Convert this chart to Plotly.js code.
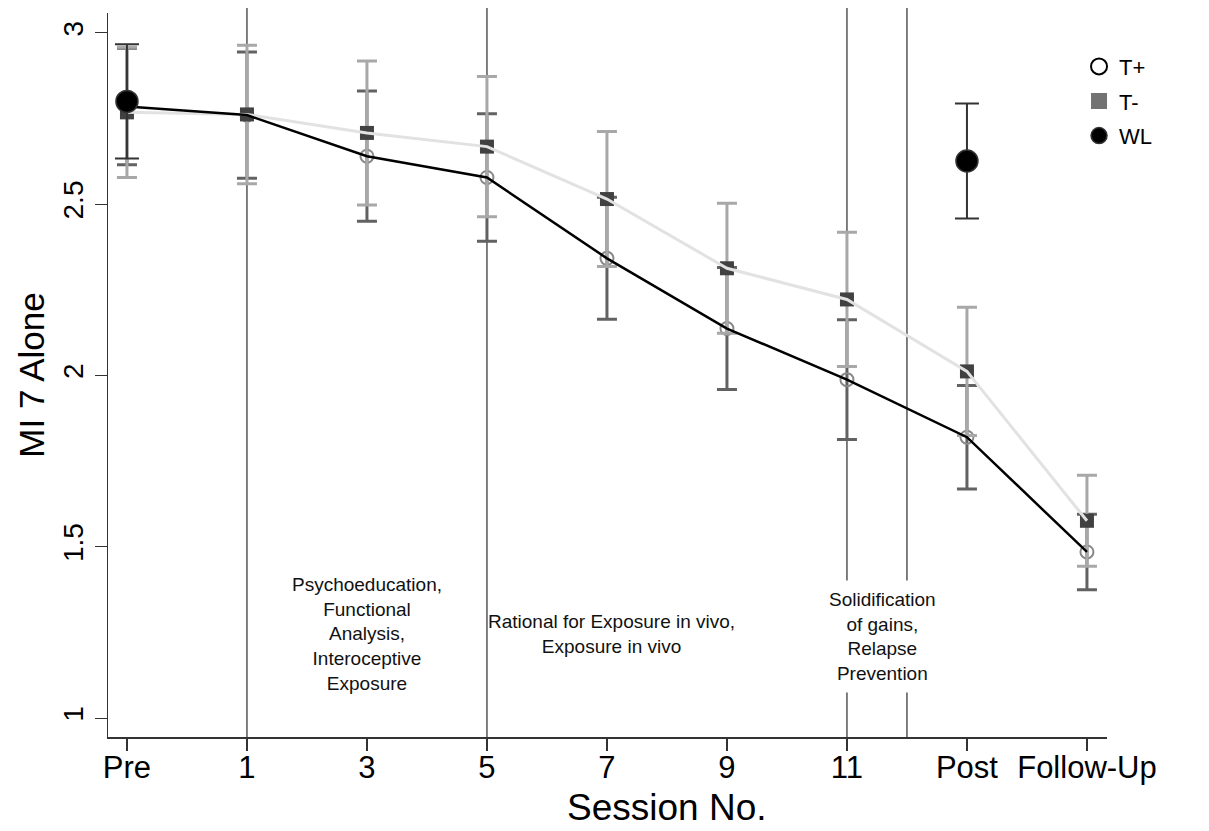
<!DOCTYPE html>
<html>
<head>
<meta charset="utf-8">
<script src="https://cdn.plot.ly/plotly-3.0.1.min.js"></script>
<style>html,body{margin:0;padding:0;background:#fff;}#chart{width:1209px;height:831px;}</style>
</head>
<body>
<div id="chart"></div>
<script>
// ---- data ----
const sessions = ['Pre', '1', '3', '5', '7', '9', '11', 'Post', 'Follow-Up'];
const tPlusMean = [2.785, 2.760, 2.640, 2.578, 2.342, 2.137, 1.988, 1.820, 1.485];
const tPlusErr  = [0.170, 0.184, 0.190, 0.186, 0.178, 0.178, 0.175, 0.151, 0.110];
const tMinusMean = [2.768, 2.762, 2.708, 2.668, 2.515, 2.313, 2.222, 2.012, 1.576];
const tMinusErr  = [0.190, 0.202, 0.210, 0.205, 0.197, 0.190, 0.196, 0.187, 0.133];
const wlSessions = ['Pre', 'Post'];
const wlMean = [2.800, 2.626];
const wlErr  = [0.167, 0.168];
const yTicks = [1, 1.5, 2, 2.5, 3];
const yTickText = ['1', '1.5', '2', '2.5', '3'];
const phaseBoundaries = ['1', '5', '11'];
const phaseLabels = [
  'Psychoeducation,<br>Functional<br>Analysis,<br>Interoceptive<br>Exposure',
  'Rational for Exposure in vivo,<br>Exposure in vivo',
  'Solidification<br>of gains,<br>Relapse<br>Prevention'
];

const idx = s => sessions.indexOf(s);
const xs = sessions.map((s, i) => i);
const wlX = wlSessions.map(idx);

const FONT = 'Liberation Sans, Arial, Helvetica, sans-serif';

const traces = [
  // T+ markers with error bars
  {x: xs, y: tPlusMean, type: 'scatter', mode: 'markers', showlegend: false,
   marker: {symbol: 'circle-open', size: 13, color: '#888888', line: {width: 2, color: '#888888'}},
   error_y: {type: 'data', array: tPlusErr, visible: true, color: '#626262', thickness: 3, width: 10}},
  // T- markers with error bars
  {x: xs, y: tMinusMean, type: 'scatter', mode: 'markers', showlegend: false,
   marker: {symbol: 'square', size: 14, color: '#414141'},
   error_y: {type: 'data', array: tMinusErr, visible: true, color: '#a8a8a8', thickness: 3, width: 10}},
  // connecting lines drawn over markers
  {x: xs, y: tMinusMean, type: 'scatter', mode: 'lines', showlegend: false,
   line: {color: '#e2e2e2', width: 3}},
  {x: xs, y: tPlusMean, type: 'scatter', mode: 'lines', showlegend: false,
   line: {color: '#000000', width: 2.5}},
  // WL
  {x: wlX, y: wlMean, type: 'scatter', mode: 'markers', showlegend: false,
   marker: {symbol: 'circle', size: 22, color: '#000000', line: {width: 1.5, color: '#333333'}},
   error_y: {type: 'data', array: wlErr, visible: true, color: '#333333', thickness: 2, width: 12}},
  // legend entries
  {x: [null], y: [null], type: 'scatter', mode: 'markers', name: 'T+', legendgroup: 'a',
   marker: {symbol: 'circle-open', size: 16, color: '#000000', line: {width: 2, color: '#000000'}}},
  {x: [null], y: [null], type: 'scatter', mode: 'markers', name: 'T-', legendgroup: 'b',
   marker: {symbol: 'square', size: 17, color: '#727272'}},
  {x: [null], y: [null], type: 'scatter', mode: 'markers', name: 'WL', legendgroup: 'c',
   marker: {symbol: 'circle', size: 19, color: '#000000', line: {width: 1.5, color: '#333333'}}}
];

const boundaryX = phaseBoundaries.map(idx).concat([(idx('11') + idx('Post')) / 2]);
const shapes = boundaryX.map(bx => ({
  type: 'line', xref: 'x', yref: 'paper', x0: bx, x1: bx, y0: 0, y1: 1.007,
  line: {color: '#2a2a2a', width: 1.2}, layer: 'below'
}));

const annotations = [
  {x: idx('3'), y: 1.245, xref: 'x', yref: 'y', text: phaseLabels[0], showarrow: false,
   font: {family: FONT, size: 19, color: '#111'}, align: 'center'},
  {x: 4.04, y: 1.245, xref: 'x', yref: 'y', text: phaseLabels[1], showarrow: false,
   font: {family: FONT, size: 19, color: '#111'}, align: 'center'},
  {x: 6.3, y: 1.237, xref: 'x', yref: 'y', text: phaseLabels[2], showarrow: false,
   font: {family: FONT, size: 19, color: '#111'}, align: 'center',
   bgcolor: '#ffffff', borderpad: 8},
  {x: 0.5596, y: -0.097, xref: 'paper', yref: 'paper', text: 'Session No.', showarrow: false,
   font: {family: FONT, size: 37, color: '#000'}, yanchor: 'middle'}
];

const layout = {
  width: 1209, height: 831,
  margin: {l: 108, r: 102, t: 13, b: 94, pad: 0},
  paper_bgcolor: '#ffffff', plot_bgcolor: '#ffffff',
  font: {family: FONT, color: '#000'},
  showlegend: true,
  legend: {x: 0.972, y: 0.955, xanchor: 'left', yanchor: 'top',
    font: {family: FONT, size: 22, color: '#000'}, bgcolor: 'rgba(0,0,0,0)',
    traceorder: 'grouped', tracegroupgap: 3, itemwidth: 30},
  xaxis: {
    range: [-0.158, 8.167], tickvals: xs, ticktext: sessions,
    showgrid: false, zeroline: false, showline: true, linecolor: '#333', linewidth: 1.5,
    ticks: 'outside', ticklen: 12, tickwidth: 1.2, tickcolor: '#333',
    ticklabelstandoff: -10,
    tickfont: {family: FONT, size: 31, color: '#000'}, fixedrange: true
  },
  yaxis: {
    range: [0.945, 3.058], tickvals: yTicks, ticktext: yTickText, tickangle: -90,
    showgrid: false, zeroline: false, showline: true, linecolor: '#333', linewidth: 1.5,
    ticks: 'outside', ticklen: 12, tickwidth: 1.2, tickcolor: '#333',
    tickfont: {family: FONT, size: 28, color: '#000'},
    title: {text: 'MI 7 Alone', font: {family: FONT, size: 35, color: '#000'}, standoff: 3},
    automargin: false, fixedrange: true
  },
  shapes: shapes,
  annotations: annotations
};

Plotly.newPlot('chart', traces, layout, {displayModeBar: false, staticPlot: true});
</script>
</body>
</html>
